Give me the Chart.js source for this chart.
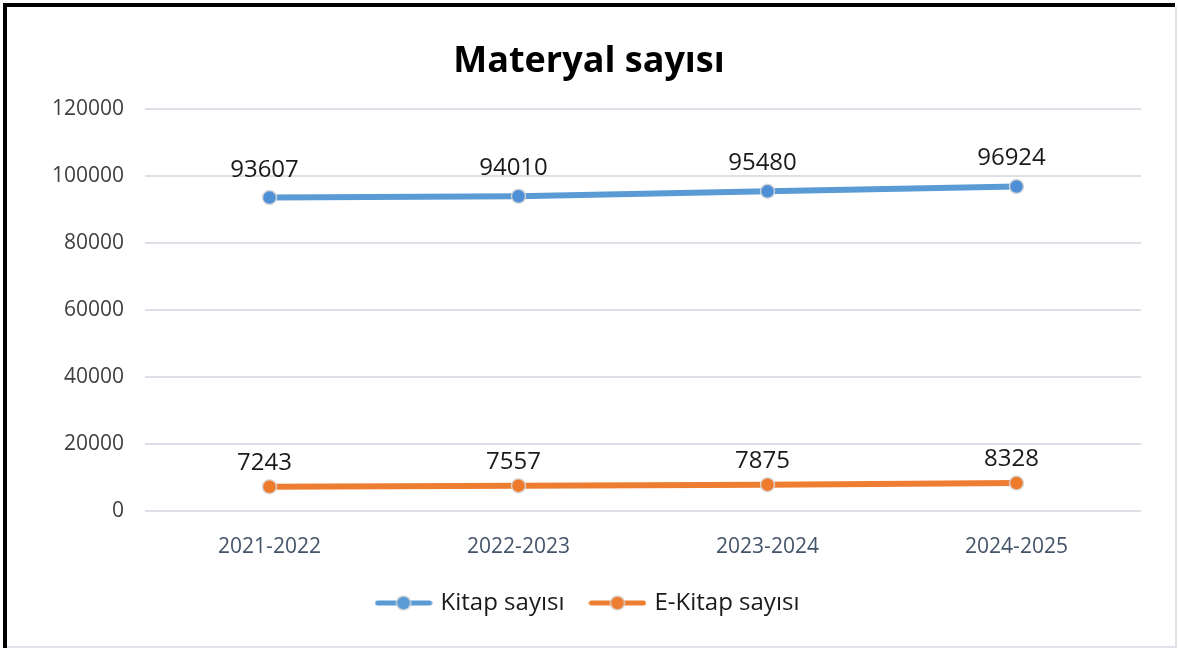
<!DOCTYPE html>
<html>
<head>
<meta charset="utf-8">
<script src="https://cdn.jsdelivr.net/npm/chart.js@4"></script>
<style>
  html, body { margin: 0; padding: 0; background: #fff; }
  #wrap { position: relative; width: 1178px; height: 648px; overflow: hidden; }
  canvas { position: absolute; left: 0; top: 0; }
  .b { position: absolute; }
</style>
</head>
<body>
<div id="wrap">
  <canvas id="c" width="1178" height="648"></canvas>
  <div class="b" style="left:3px;top:3px;width:4px;height:645px;background:#000"></div>
  <div class="b" style="left:3px;top:3px;width:1172px;height:4px;background:#000"></div>
  <div class="b" style="left:1175px;top:7px;width:2px;height:641px;background:#dfe2e8"></div>
  <div class="b" style="left:7px;top:646px;width:1170px;height:2px;background:#dfe2e8"></div>
</div>
<script>
const categories = ['2021-2022', '2022-2023', '2023-2024', '2024-2025'];
const kitapValues = [93607, 94010, 95480, 96924];
const eKitapValues = [7243, 7557, 7875, 8328];
const seriesNames = ['Kitap sayısı', 'E-Kitap sayısı'];
const chartTitle = 'Materyal sayısı';

const BLUE = '#5B9BD5';
const ORANGE = '#ED7D31';
const FONT = "'Open Sans', 'Noto Sans', sans-serif";

function legendMarker(color) {
  const cv = document.createElement('canvas');
  cv.width = 58; cv.height = 20;
  const g = cv.getContext('2d');
  g.strokeStyle = color; g.lineWidth = 5; g.lineCap = 'round';
  g.beginPath(); g.moveTo(3, 10); g.lineTo(55, 10); g.stroke();
  g.beginPath(); g.arc(29, 10, 7, 0, Math.PI * 2);
  g.fillStyle = color; g.fill();
  g.lineWidth = 1.5; g.strokeStyle = 'rgba(215,215,215,0.9)'; g.stroke();
  return cv;
}

const dataLabels = {
  id: 'dataLabels',
  afterDatasetsDraw(chart) {
    const ctx = chart.ctx;
    ctx.save();
    ctx.font = "24px " + FONT;
    ctx.fillStyle = '#1a1a1a';
    ctx.textAlign = 'center';
    ctx.textBaseline = 'alphabetic';
    chart.data.datasets.forEach((ds, i) => {
      const meta = chart.getDatasetMeta(i);
      const off = i === 0 ? 21 : 17;
      meta.data.forEach((pt, j) => {
        ctx.fillText(String(ds.data[j]), pt.x - 5, pt.y - off);
      });
    });
    ctx.restore();
  }
};

new Chart(document.getElementById('c'), {
  type: 'line',
  data: {
    labels: categories,
    datasets: [
      {
        label: seriesNames[0], data: kitapValues,
        borderColor: BLUE, backgroundColor: BLUE, borderWidth: 6,
        pointRadius: 7, pointHoverRadius: 7, pointBackgroundColor: '#4F8FD6',
        pointBorderColor: 'rgba(215,215,215,0.9)', pointBorderWidth: 1.5,
        tension: 0, fill: false
      },
      {
        label: seriesNames[1], data: eKitapValues,
        borderColor: ORANGE, backgroundColor: ORANGE, borderWidth: 6,
        pointRadius: 7, pointHoverRadius: 7, pointBackgroundColor: '#EE7A2C',
        pointBorderColor: 'rgba(215,215,215,0.9)', pointBorderWidth: 1.5,
        tension: 0, fill: false
      }
    ]
  },
  options: {
    responsive: false,
    animation: false,
    events: [],
    layout: { padding: { left: 0, right: 0, top: 0, bottom: 23 } },
    plugins: {
      title: {
        display: true, text: chartTitle, color: '#000',
        font: { family: FONT, size: 36, weight: 'bold', lineHeight: 1.2 },
        padding: { top: 40, bottom: 26 }
      },
      legend: {
        display: true, position: 'bottom',
        labels: {
          usePointStyle: true, pointStyleWidth: 50, boxWidth: 50,
          padding: 28, color: '#1a1a1a',
          font: { family: FONT, size: 24 },
          generateLabels(chart) {
            const items = Chart.defaults.plugins.legend.labels.generateLabels(chart);
            items.forEach((it, k) => {
              it.pointStyle = legendMarker(k === 0 ? BLUE : ORANGE);
            });
            return items;
          }
        }
      },
      tooltip: { enabled: false }
    },
    scales: {
      x: {
        offset: true,
        grid: { display: false, drawTicks: false },
        border: { display: false },
        ticks: { color: '#44546A', padding: 23, font: { family: FONT, size: 21 } },
        afterFit(s) { s.height = 52; }
      },
      y: {
        min: 0, max: 120000,
        ticks: {
          stepSize: 20000, color: '#404040', padding: 21,
          font: { family: FONT, size: 21 },
          callback: (v) => String(v)
        },
        grid: { color: '#dcdfe6', lineWidth: 2, drawTicks: false },
        border: { display: false },
        afterFit(s) { s.width = 145; }
      },
      y2: {
        position: 'right', display: true,
        grid: { display: false, drawTicks: false },
        border: { display: false },
        ticks: { display: false },
        afterFit(s) { s.width = 37; }
      }
    }
  },
  plugins: [dataLabels]
});
</script>
</body>
</html>
